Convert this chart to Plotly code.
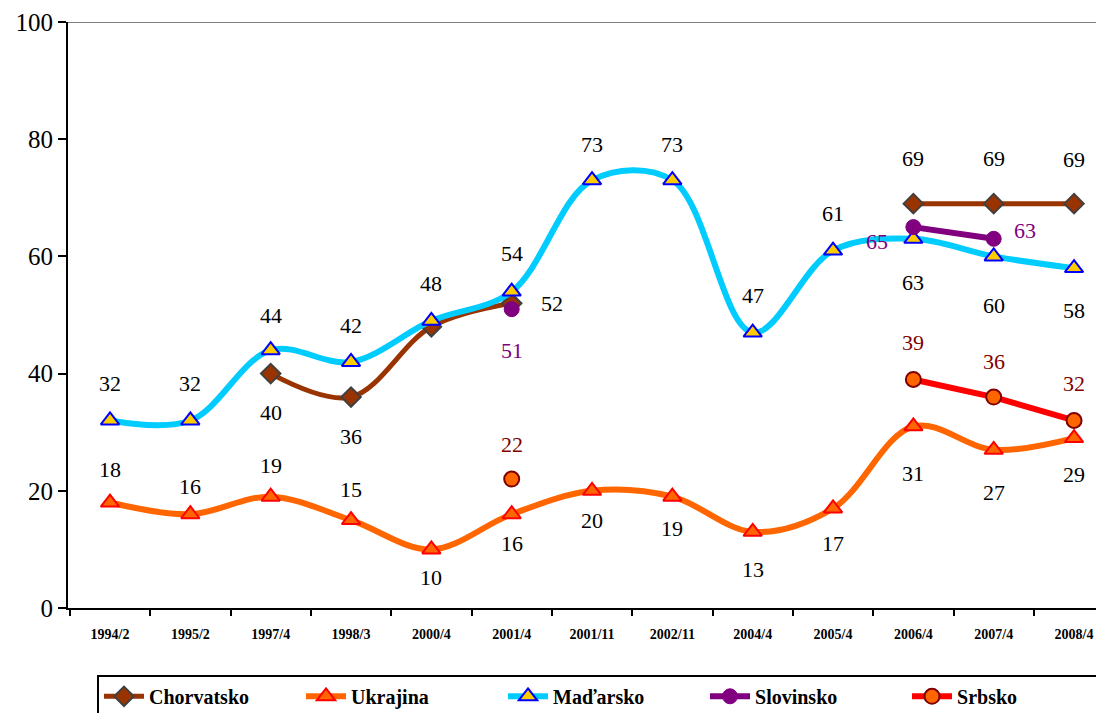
import plotly.graph_objects as go

categories = ["1994/2", "1995/2", "1997/4", "1998/3", "2000/4", "2001/4", "2001/11",
              "2002/11", "2004/4", "2005/4", "2006/4", "2007/4", "2008/4"]

chorvatsko = [None, None, 40, 36, 48, 52, None, None, None, None, 69, 69, 69]
ukrajina = [18, 16, 19, 15, 10, 16, 20, 19, 13, 17, 31, 27, 29]
madarsko = [32, 32, 44, 42, 49, 54, 73, 73, 47, 61, 63, 60, 58]
slovinsko = [None, None, None, None, None, 51, None, None, None, None, 65, 63, None]
srbsko = [None, None, None, None, None, 22, None, None, None, None, 39, 36, 32]

# label offsets in px (dx, dy); None = no label shown
U = (0, 37)
D = (0, -39)
lab_chorvatsko = [None, None, D, D, (0, 43), (40, 0), None, None, None, None, (0, 45), (0, 45), (0, 44)]
lab_ukrajina = [(0, 33), (0, 28), (0, 31), (0, 31), (0, -28), (0, -29), (0, -30), (0, -32),
                (0, -38), (0, -35), (0, -47), (0, -43), (0, -36)]
lab_madarsko = [U, U, (0, 35), (0, 36), None, (0, 38), (0, 36), (0, 36), (0, 37), (0, 37),
                (0, -44), (0, -49), (0, -42)]
lab_slovinsko = [None, None, None, None, None, (0, -41), None, None, None, None, (-36, -14), (31, 8), None]
lab_srbsko = [None, None, None, None, None, (0, 35), None, None, None, None, (0, 37), (0, 36), (0, 37)]

series = [
    dict(name="Chorvatsko", y=chorvatsko, lab=lab_chorvatsko, shape="spline",
         line=dict(color="#993300", width=5),
         marker=dict(symbol="diamond", size=15, color="#993300", line=dict(color="#404040", width=2)),
         tcolor="black"),
    dict(name="Ukrajina", y=ukrajina, lab=lab_ukrajina, shape="spline",
         line=dict(color="#FF6600", width=6),
         marker=dict(symbol="triangle-up", size=16, color="#FF6600", line=dict(color="#FF0000", width=2)),
         tcolor="black"),
    dict(name="Maďarsko", y=madarsko, lab=lab_madarsko, shape="spline",
         line=dict(color="#00CCFF", width=6),
         marker=dict(symbol="triangle-up", size=16, color="#FFCC00", line=dict(color="#0000FF", width=2)),
         tcolor="black"),
    dict(name="Slovinsko", y=slovinsko, lab=lab_slovinsko, shape="linear",
         line=dict(color="#800080", width=6),
         marker=dict(symbol="circle", size=15, color="#800080", line=dict(color="#800080", width=1)),
         tcolor="#800080"),
    dict(name="Srbsko", y=srbsko, lab=lab_srbsko, shape="linear",
         line=dict(color="#FF0000", width=6),
         marker=dict(symbol="circle", size=15, color="#FF6600", line=dict(color="#800000", width=2)),
         tcolor="#800000"),
]

fig = go.Figure()
annotations = []
for s in series:
    fig.add_trace(go.Scatter(
        x=categories, y=s["y"], name=s["name"], mode="lines+markers",
        line=dict(color=s["line"]["color"], width=s["line"]["width"], shape=s["shape"], smoothing=1),
        marker=s["marker"], connectgaps=False, hoverinfo="skip"))
    for c, v, off in zip(categories, s["y"], s["lab"]):
        if v is None or off is None:
            continue
        annotations.append(dict(x=c, y=v, xref="x", yref="y", text=str(v), showarrow=False,
                                xshift=off[0], yshift=off[1],
                                font=dict(family="Liberation Serif", size=22, color=s["tcolor"])))

fig.update_layout(
    width=1096, height=705,
    margin=dict(l=60, r=0, t=14, b=105, autoexpand=False),
    paper_bgcolor="white", plot_bgcolor="white",
    showlegend=True,
    legend=dict(orientation="h", x=0.028, y=-0.114, xanchor="left", yanchor="top",
                bgcolor="white", bordercolor="black", borderwidth=2,
                entrywidth=147, itemwidth=40,
                font=dict(family="Liberation Serif", size=20, color="black", weight="bold")),
    annotations=annotations,
    shapes=[dict(type="line", xref="paper", x0=0, x1=1, yref="y", y0=100, y1=100,
                 line=dict(color="#808080", width=2), layer="below")],
)
fig.update_xaxes(type="category", range=[-0.523, 12.373], showgrid=False, zeroline=False,
                 automargin=False,
                 showline=True, linecolor="black", linewidth=2,
                 ticks="outside", tickson="boundaries", ticklen=6, tickwidth=2, tickcolor="black",
                 ticklabelstandoff=12,
                 tickfont=dict(family="Liberation Serif", size=14, color="black", weight="bold"))
fig.update_yaxes(range=[0, 100], tickvals=[0, 20, 40, 60, 80, 100], showgrid=False, zeroline=False,
                 automargin=False,
                 showline=True, linecolor="black", linewidth=2,
                 ticks="outside", ticklen=8, tickwidth=2, tickcolor="black",
                 tickfont=dict(family="Liberation Serif", size=25, color="black"))

fig.write_html("out.html")
